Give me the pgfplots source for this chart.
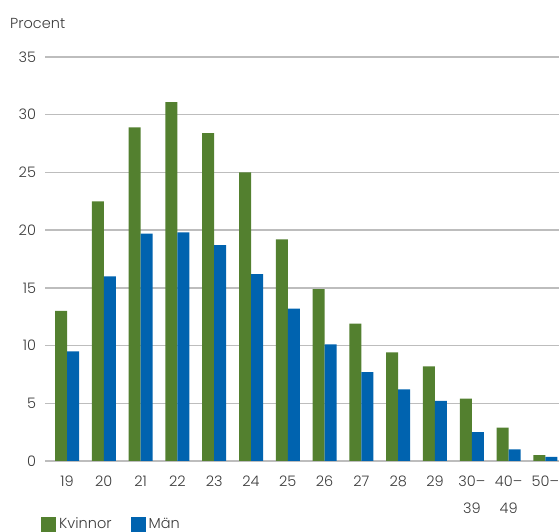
\documentclass[border=0pt]{standalone}
\usepackage{fontspec}
\setmainfont{Poppins Light}
\usepackage{pgfplots}
\pgfplotsset{compat=1.18}
\definecolor{kgreen}{HTML}{53802F}
\definecolor{mblue}{HTML}{0063AF}
\definecolor{txt}{HTML}{3C3C3C}
\definecolor{gridgray}{HTML}{BDBDBD}

\pgfplotstableread{
x kvinnor man
0  13.0  9.5
1  22.5  16.0
2  28.9  19.7
3  31.1  19.8
4  28.4  18.7
5  25.0  16.2
6  19.2  13.2
7  14.9  10.1
8  11.9  7.7
9  9.4   6.2
10 8.2   5.2
11 5.4   2.5
12 2.9   1.0
13 0.5   0.35
}\data

\pgfplotsset{sq legend/.style={legend image code/.code={\fill[##1] (0pt,-7.5pt) rectangle (15pt,7.5pt);}}}

\begin{document}
\fontsize{14.5}{17}\selectfont
\color{txt}
\begin{tikzpicture}
\useasboundingbox (-45pt,-71pt) rectangle (514pt,461pt);
\begin{axis}[
  scale only axis, width=514pt, height=404pt,
  at={(0,0)}, anchor=south west,
  ybar=0pt, bar width=12pt,
  xmin=-0.598, xmax=13.37, ymin=0, ymax=35,
  ytick={0,5,...,35},
  xtick=data,
  xticklabels={19,20,21,22,23,24,25,26,27,28,29,{30–\\39},{40–\\49},{50–}},
  xticklabel style={align=center, yshift=-10pt, font=\fontsize{14.5}{27}\selectfont, anchor=north},
  yticklabel style={xshift=-4pt},
  major tick length=0pt,
  axis line style={draw=none},
  xmajorgrids=false,
  ymajorgrids=true, grid style={draw=gridgray, line width=1.3pt},
  tick label style={text=txt},
  /pgf/number format/assume math mode=true,
  legend columns=2,
  legend style={draw=none, fill=none, at={(-0.0078,-0.156)}, anchor=west,
    inner sep=0pt, /tikz/every even column/.append style={column sep=16pt},
    nodes={inner sep=3pt, text=txt}},
]
\addplot[fill=kgreen, draw=none, sq legend] table[x=x, y=kvinnor] {\data};
\addlegendentry{Kvinnor}
\addplot[fill=mblue, draw=none, sq legend] table[x=x, y=man] {\data};
\addlegendentry{Män}
\end{axis}
\node[anchor=base west, text=txt, inner sep=0pt] at (-35pt,432pt) {Procent};
\end{tikzpicture}
\end{document}
